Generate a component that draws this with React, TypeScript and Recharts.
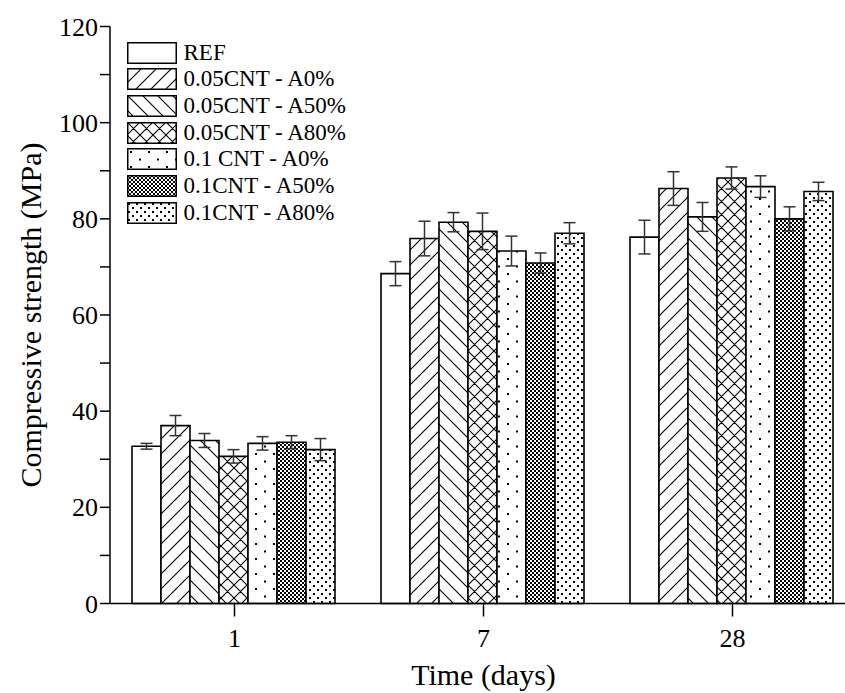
import React from "react";
import { BarChart, Bar, XAxis, YAxis, ErrorBar, Legend } from "recharts";

const FONT = "'Liberation Serif', 'Times New Roman', serif";

// curing age (days)
const days = ["1", "7", "28"];

// compressive strength (MPa) and std deviation
const refMix = [32.7, 68.6, 76.2];
const refMixErr = [0.6, 2.5, 3.5];
const cnt005A0 = [37.0, 75.9, 86.3];
const cnt005A0Err = [2.1, 3.6, 3.5];
const cnt005A50 = [33.9, 79.3, 80.4];
const cnt005A50Err = [1.45, 2.0, 3.0];
const cnt005A80 = [30.6, 77.4, 88.5];
const cnt005A80Err = [1.4, 3.8, 2.3];
const cnt01A0 = [33.3, 73.3, 86.7];
const cnt01A0Err = [1.4, 3.1, 2.25];
const cnt01A50 = [33.55, 70.8, 80.0];
const cnt01A50Err = [1.35, 2.1, 2.5];
const cnt01A80 = [32.0, 77.0, 85.7];
const cnt01A80Err = [2.3, 2.2, 1.9];

const yTicks = [0, 10, 20, 30, 40, 50, 60, 70, 80, 90, 100, 110, 120];

const SERIES = [
  { key: "refMix", name: "REF", values: refMix, errors: refMixErr, fill: "#ffffff" },
  { key: "c05a0", name: "0.05CNT - A0%", values: cnt005A0, errors: cnt005A0Err, fill: "url(#pSlash)" },
  { key: "c05a50", name: "0.05CNT - A50%", values: cnt005A50, errors: cnt005A50Err, fill: "url(#pBack)" },
  { key: "c05a80", name: "0.05CNT - A80%", values: cnt005A80, errors: cnt005A80Err, fill: "url(#pCross)" },
  { key: "c1a0", name: "0.1 CNT - A0%", values: cnt01A0, errors: cnt01A0Err, fill: "url(#pSparse)" },
  { key: "c1a50", name: "0.1CNT - A50%", values: cnt01A50, errors: cnt01A50Err, fill: "url(#pDense)" },
  { key: "c1a80", name: "0.1CNT - A80%", values: cnt01A80, errors: cnt01A80Err, fill: "url(#pDots)" },
];

const data = days.map((d, i) => {
  const row: Record<string, string | number> = { day: d };
  SERIES.forEach((s) => {
    row[s.key] = s.values[i];
    row[s.key + "Err"] = s.errors[i];
  });
  return row;
});

function YTick({ x, y, payload }: any) {
  if (payload.value % 20 !== 0) return <g />;
  return (
    <text x={x} y={y} dy="0.35em" textAnchor="end" fontFamily={FONT} fontSize={26} fill="#000">
      {payload.value}
    </text>
  );
}

function PatternLegend() {
  return (
    <div style={{ fontFamily: FONT, fontSize: 23, color: "#000" }}>
      {SERIES.map((s) => (
        <div key={s.key} style={{ display: "flex", alignItems: "center", height: 22, marginBottom: 4.7 }}>
          <svg width={50} height={22} style={{ display: "block" }}>
            <rect x={0.75} y={0.75} width={48.5} height={20.5} fill={s.fill} stroke="#000" strokeWidth={1.5} />
          </svg>
          <span style={{ marginLeft: 7, lineHeight: "22px", whiteSpace: "nowrap" }}>{s.name}</span>
        </div>
      ))}
    </div>
  );
}

export default function App() {
  return (
    <div
      style={{
        position: "absolute",
        left: 0,
        top: 0,
        width: 845,
        height: 693,
        overflow: "hidden",
        background: "#fff",
      }}
    >
      <BarChart
        width={860}
        height={693}
        data={data}
        margin={{ top: 26.5, right: 3, bottom: 0, left: 0 }}
        barCategoryGap={22}
        barGap={0}
      >
        <defs>
          <pattern id="pSlash" patternUnits="userSpaceOnUse" width={15} height={15}>
            <rect width={15} height={15} fill="#fff" />
            <path d="M0,15 L15,0 M-3.75,3.75 L3.75,-3.75 M11.25,18.75 L18.75,11.25" stroke="#000" strokeWidth={1.1} />
          </pattern>
          <pattern id="pBack" patternUnits="userSpaceOnUse" width={15} height={15}>
            <rect width={15} height={15} fill="#fff" />
            <path d="M0,0 L15,15 M-3.75,11.25 L3.75,18.75 M11.25,-3.75 L18.75,3.75" stroke="#000" strokeWidth={1.1} />
          </pattern>
          <pattern id="pCross" patternUnits="userSpaceOnUse" width={13} height={13}>
            <rect width={13} height={13} fill="#fff" />
            <path
              d="M0,13 L13,0 M-3,3 L3,-3 M10,16 L16,10 M0,0 L13,13 M-3,10 L3,16 M10,-3 L16,3"
              stroke="#000"
              strokeWidth={1.1}
            />
          </pattern>
          <pattern id="pSparse" patternUnits="userSpaceOnUse" width={18} height={15}>
            <rect width={18} height={15} fill="#fff" />
            <rect x={3} y={3} width={2} height={2} fill="#000" />
            <rect x={12} y={10.5} width={2} height={2} fill="#000" />
          </pattern>
          <pattern id="pDense" patternUnits="userSpaceOnUse" width={4} height={4}>
            <rect width={4} height={4} fill="#fff" />
            <rect x={0} y={0} width={2} height={2} fill="#000" />
            <rect x={2} y={2} width={2} height={2} fill="#000" />
          </pattern>
          <pattern id="pDots" patternUnits="userSpaceOnUse" width={8} height={8}>
            <rect width={8} height={8} fill="#fff" />
            <rect x={1} y={1} width={2} height={2} fill="#000" />
            <rect x={5} y={5} width={2} height={2} fill="#000" />
          </pattern>
        </defs>

        <XAxis
          xAxisId="minor"
          type="number"
          domain={[0, 3]}
          ticks={[1, 2]}
          height={0}
          axisLine={false}
          tickSize={5}
          tickLine={{ stroke: "#000", strokeWidth: 1.5 }}
          tick={() => <g />}
        />
        <XAxis
          xAxisId="main"
          dataKey="day"
          height={89.5}
          axisLine={{ stroke: "#000", strokeWidth: 1.5 }}
          tickLine={{ stroke: "#000", strokeWidth: 1.5 }}
          tickSize={13}
          tickMargin={12.5}
          tick={{ fill: "#000", fontSize: 26, fontFamily: FONT }}
          label={{
            value: "Time (days)",
            position: "insideBottom",
            offset: 8,
            fill: "#000",
            fontSize: 30,
            fontFamily: FONT,
          }}
        />
        <YAxis
          width={110}
          domain={[0, 120]}
          ticks={yTicks}
          interval={0}
          axisLine={{ stroke: "#000", strokeWidth: 1.5 }}
          tickLine={{ stroke: "#000", strokeWidth: 1.5 }}
          tickSize={10}
          tickMargin={2}
          tick={<YTick />}
          label={{
            value: "Compressive strength (MPa)",
            angle: -90,
            position: "insideLeft",
            offset: 30,
            fill: "#000",
            fontSize: 30,
            fontFamily: FONT,
            style: { textAnchor: "middle" },
          }}
        />
        <Legend
          content={<PatternLegend />}
          layout="vertical"
          align="center"
          verticalAlign="middle"
          wrapperStyle={{ left: 126.5, top: 41.5, width: "auto" }}
        />
        {SERIES.map((s) => (
          <Bar
            key={s.key}
            xAxisId="main"
            dataKey={s.key}
            name={s.name}
            fill={s.fill}
            stroke="#000"
            strokeWidth={1.6}
            isAnimationActive={false}
          >
            <ErrorBar
              dataKey={s.key + "Err"}
              width={6}
              stroke="#333"
              strokeWidth={1.5}
              isAnimationActive={false}
            />
          </Bar>
        ))}
      </BarChart>
    </div>
  );
}
